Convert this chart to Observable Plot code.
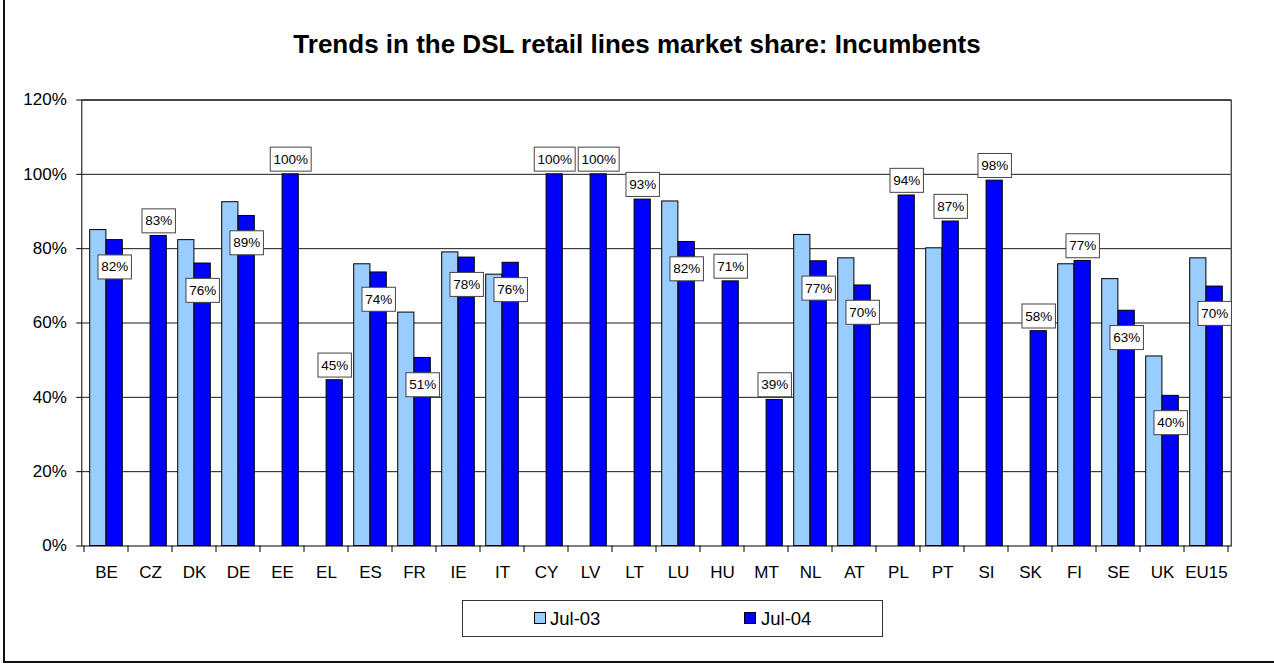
<!DOCTYPE html>
<html>
<head>
<meta charset="utf-8">
<script src="https://cdn.jsdelivr.net/npm/d3@7"></script>
<script src="https://cdn.jsdelivr.net/npm/@observablehq/plot@0.6"></script>
<style>
  html, body { margin: 0; padding: 0; background: #fff; }
  body { font-family: Arial, "Liberation Sans", sans-serif; }
  #wrap { position: relative; width: 1274px; height: 664px; overflow: hidden; background: #fff; }
  #border { position: absolute; left: 3px; top: -10px; width: 1300px; height: 673px; border: 2px solid #111; box-sizing: border-box; }
  #title { position: absolute; left: 0; top: 32px; width: 1274px; text-align: center; font-weight: bold; font-size: 26px; line-height: 25px; color: #000; white-space: nowrap; }
  #chart { position: absolute; left: 0; top: 80px; }
  #legend { position: absolute; left: 462px; top: 599.5px; width: 421px; height: 37px; border: 1px solid #333; box-sizing: border-box; background: #fff; }
  .sw { position: absolute; top: 11.8px; width: 12px; height: 12px; border: 1px solid #000; box-sizing: border-box; }
  .lt { position: absolute; top: 9.8px; font-size: 18.5px; line-height: 18px; color: #000; white-space: nowrap; }
</style>
</head>
<body>
<div id="wrap">
  <div id="border"></div>
  <div id="title"></div>
  <div id="chart"></div>
  <div id="legend"></div>
</div>
<script>
// ---- data ----
const countries = ["BE","CZ","DK","DE","EE","EL","ES","FR","IE","IT","CY","LV","LT","LU","HU","MT","NL","AT","PL","PT","SI","SK","FI","SE","UK","EU15"];
const jul03 = [85, null, 82.3, 92.5, null, null, 75.8, 62.8, 79, 73, null, null, null, 92.7, null, null, 83.7, 77.4, null, 80.1, null, null, 75.8, 71.8, 51, 77.4];
const jul04 = [82.3, 83.4, 76, 88.8, 100, 44.6, 73.6, 50.6, 77.6, 76.2, 100, 100, 93.2, 81.8, 71.2, 39.3, 76.6, 70.1, 94.3, 87.3, 98.3, 57.8, 76.7, 63.3, 40.4, 69.8];
const labelPlacement = ["inside","above","inside","inside","above","above","inside","inside","inside","inside","above","above","above","inside","above","above","inside","inside","above","above","above","above","above","inside","inside","inside"];
const seriesNames = ["Jul-03", "Jul-04"];
const seriesColors = ["#99CCFF", "#0000FF"];
const yTicks = [0, 20, 40, 60, 80, 100, 120];
const titleText = "Trends in the DSL retail lines market share: Incumbents";

// ---- layout ----
const W = 1274, H = 510, ML = 81.3, MR = 43.3, MT = 19.5, MB = 44.5;
const bw = (W - ML - MR) / countries.length;
const outer = 5.7;
const barW = (bw - 2 * outer) / 2;

const rows03 = countries.map((c, i) => ({c, v: jul03[i]})).filter(d => d.v != null);
const rows04 = countries.map((c, i) => ({c, v: jul04[i], p: labelPlacement[i]}));

function boundaryTicks(index, scales, values, dimensions) {
  const x = scales.x, y = scales.y;
  const bwid = (x && typeof x.bandwidth === "function") ? x.bandwidth()
    : (dimensions.width - dimensions.marginLeft - dimensions.marginRight) / countries.length;
  const y0 = y(0);
  const g = d3.create("svg:g").attr("stroke", "#000").attr("stroke-width", 1);
  const edges = countries.map(c => x(c)).concat([x(countries[countries.length - 1]) + bwid]);
  for (const e of edges) {
    g.append("line").attr("x1", e).attr("x2", e).attr("y1", y0).attr("y2", y0 + 6.5);
  }
  return g.node();
}

const fmt = d => Math.round(d.v) + "%";

const plot = Plot.plot({
  width: W, height: H,
  marginLeft: ML, marginRight: MR, marginTop: MT, marginBottom: MB,
  style: {fontFamily: 'Arial, "Liberation Sans", sans-serif', background: "transparent", overflow: "visible", color: "#000"},
  x: {domain: countries, padding: 0, label: null},
  y: {domain: [0, 120], label: null},
  marks: [
    Plot.gridY(yTicks.filter(t => t > 0), {stroke: "#000", strokeOpacity: 0.9, strokeWidth: 1}),
    Plot.barY(rows03, {x: "c", y: "v", fill: seriesColors[0], stroke: "#000", strokeWidth: 1, insetLeft: outer, insetRight: outer + barW}),
    Plot.barY(rows04, {x: "c", y: "v", fill: seriesColors[1], stroke: "#000", strokeWidth: 1, insetLeft: outer + barW, insetRight: outer}),
    Plot.frame({stroke: "#000", strokeWidth: 1}),
    Plot.axisY({ticks: yTicks, tickSize: 5, tickPadding: 10, tickFormat: d => d + "%", fontSize: 17, label: null}),
    Plot.axisX({tickSize: 0, tickPadding: 20, fontSize: 17, label: null}),
    boundaryTicks,
    Plot.text(rows04.filter(d => d.p === "above"), {x: "c", y: "v", text: fmt, dx: barW / 2, dy: -15, fontSize: 13.5, fill: "#000", lineAnchor: "middle"}),
    Plot.text(rows04.filter(d => d.p !== "above"), {x: "c", y: "v", text: fmt, dx: barW / 2, dy: 27, fontSize: 13.5, fill: "#000", lineAnchor: "middle"})
  ]
});

document.getElementById("chart").append(plot);
document.getElementById("title").textContent = titleText;

// boxes behind the data labels (text marks that are not part of an axis)
const ns = "http://www.w3.org/2000/svg";
const isAxisText = t => {
  let n = t.parentNode;
  while (n && n !== plot) {
    const al = (n.getAttribute && n.getAttribute("aria-label")) || "";
    if (al.indexOf("axis") >= 0 || al.indexOf("tick") >= 0) return true;
    n = n.parentNode;
  }
  return false;
};
Array.from(plot.querySelectorAll("text")).forEach(t => {
  if (!/^\d+%$/.test(t.textContent.trim())) return;
  if (isAxisText(t)) return;
  if (+t.getAttribute("font-size") === 17) return;
  const b = t.getBBox();
  const r = document.createElementNS(ns, "rect");
  const padX = 3.2, targetH = 24;
  r.setAttribute("x", b.x - padX);
  r.setAttribute("width", b.width + 2 * padX);
  r.setAttribute("y", b.y + b.height / 2 - targetH / 2);
  r.setAttribute("height", targetH);
  r.setAttribute("fill", "#fff");
  r.setAttribute("stroke", "#444");
  r.setAttribute("stroke-width", "1");
  const tr = t.getAttribute("transform");
  if (tr) r.setAttribute("transform", tr);
  t.parentNode.insertBefore(r, t);
});

// legend
const legend = document.getElementById("legend");
const legendPos = [[71, 87], [281, 298]];
seriesNames.forEach((name, i) => {
  const sw = document.createElement("div");
  sw.className = "sw";
  sw.style.left = legendPos[i][0] + "px";
  sw.style.background = seriesColors[i];
  legend.append(sw);
  const lt = document.createElement("div");
  lt.className = "lt";
  lt.style.left = legendPos[i][1] + "px";
  lt.textContent = name;
  legend.append(lt);
});
</script>
</body>
</html>
